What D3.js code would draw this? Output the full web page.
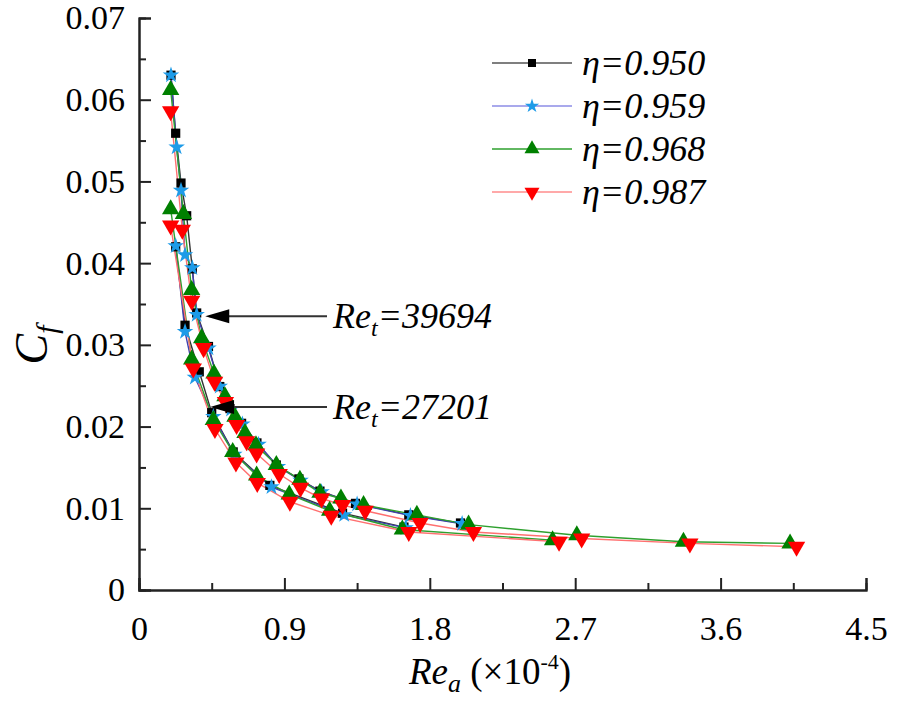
<!DOCTYPE html>
<html><head><meta charset="utf-8">
<script src="https://cdn.jsdelivr.net/npm/d3@7"></script>
<style>
body{margin:0;background:#fff}svg{display:block}
text{font-family:"Liberation Serif","Tinos","Times New Roman","DejaVu Serif",serif !important}
</style>
</head><body>
<svg id="chart" width="898" height="701"></svg>
<script>
// ---- data ----
const xTicks = [0, 0.9, 1.8, 2.7, 3.6, 4.5];
const yTicks = [0, 0.01, 0.02, 0.03, 0.04, 0.05, 0.06, 0.07];
const seriesNames = ["η=0.950", "η=0.959", "η=0.968", "η=0.987"];

// η=0.950
const s950OuterRe = [0.198,0.227,0.26,0.295,0.33,0.357,0.43,0.50,0.563,0.635,0.73,0.85,0.99,1.12,1.34,1.67,1.99];
const s950OuterCf = [0.0630,0.0559,0.0498,0.0458,0.0393,0.0339,0.0298,0.0249,0.0222,0.0204,0.0180,0.0153,0.0136,0.0121,0.0106,0.0092,0.0082];
const s950InnerRe = [0.227,0.285,0.373,0.45,0.583,0.81,1.26,1.64];
const s950InnerCf = [0.0420,0.0324,0.0267,0.0217,0.0169,0.0128,0.0094,0.0077];
// η=0.959
const s959OuterRe = [0.198,0.233,0.26,0.285,0.33,0.357,0.43,0.50,0.57,0.64,0.74,0.86,1.0,1.13,1.35,1.68,2.0];
const s959OuterCf = [0.0630,0.0542,0.0489,0.0410,0.0394,0.0337,0.0296,0.0249,0.0221,0.0203,0.0178,0.0151,0.0134,0.0120,0.0105,0.0091,0.0081];
const s959InnerRe = [0.227,0.285,0.346,0.46,0.59,0.82,1.27,1.65];
const s959InnerCf = [0.0421,0.0316,0.0260,0.0212,0.0166,0.0126,0.0092,0.0076];
// η=0.968
const s968OuterRe = [0.196,0.275,0.326,0.388,0.464,0.532,0.594,0.656,0.724,0.85,0.996,1.12,1.25,1.39,1.72,2.04,2.71,3.37,4.03];
const s968OuterCf = [0.0612,0.0460,0.0367,0.0308,0.0265,0.0237,0.0212,0.0192,0.0177,0.0153,0.0135,0.0119,0.0112,0.0104,0.0092,0.0080,0.0067,0.0059,0.0057];
const s968InnerRe = [0.196,0.326,0.46,0.58,0.728,0.93,1.18,1.63,2.56];
const s968InnerCf = [0.0466,0.0282,0.0208,0.0169,0.0140,0.0117,0.0097,0.0074,0.0061];
// η=0.987
const s987OuterRe = [0.196,0.268,0.326,0.40,0.468,0.535,0.604,0.666,0.728,0.868,1.0,1.13,1.26,1.40,1.74,2.07,2.74,3.41,4.07];
const s987OuterCf = [0.0586,0.0441,0.0354,0.0296,0.0255,0.0230,0.0202,0.0182,0.0167,0.0142,0.0125,0.0112,0.0104,0.0097,0.0082,0.0071,0.0063,0.0057,0.0053];
const s987InnerRe = [0.196,0.336,0.47,0.60,0.732,0.934,1.19,1.67,2.60];
const s987InnerCf = [0.0446,0.0271,0.0197,0.0156,0.0131,0.0108,0.0091,0.0071,0.0059];

const annotations = [
  {label: "39694", re: 0.41, cf: 0.0335},
  {label: "27201", re: 0.44, cf: 0.0224}
];

// ---- build ----
const zip = (a, b) => a.map((v, i) => [v, b[i]]);
const series = [
  {name: seriesNames[0], line: "#333333", legLine: "#555555", fill: "#000000", sym: d3.symbolSquare, size: 85, rot: 0,
   branches: [zip(s950OuterRe, s950OuterCf), zip(s950InnerRe, s950InnerCf)]},
  {name: seriesNames[1], line: "#4040b0", legLine: "#8c8ce6", fill: "#1e9be8", sym: d3.symbolStar, size: 85, rot: 0,
   branches: [zip(s959OuterRe, s959OuterCf), zip(s959InnerRe, s959InnerCf)]},
  {name: seriesNames[2], line: "#2ea02e", legLine: "#2ea02e", fill: "#008000", sym: d3.symbolTriangle, size: 130, rot: 0,
   branches: [zip(s968OuterRe, s968OuterCf), zip(s968InnerRe, s968InnerCf)]},
  {name: seriesNames[3], line: "#ff7070", legLine: "#ff8c8c", fill: "#ff0000", sym: d3.symbolTriangle, size: 130, rot: 180,
   branches: [zip(s987OuterRe, s987OuterCf), zip(s987InnerRe, s987InnerCf)]}
];

const svg = d3.select("#chart");
const m = {l: 139, r: 866, t: 18, b: 590};
const x = d3.scaleLinear().domain([0, 4.5]).range([m.l, m.r]);
const y = d3.scaleLinear().domain([0, 0.07]).range([m.b, m.t]);
const serif = "Liberation Serif";

// lines
const lineGen = d3.line().x(d => x(d[0])).y(d => y(d[1]));
series.forEach(s => {
  s.branches.forEach(b => {
    svg.append("path").attr("d", lineGen(b)).attr("fill", "none")
      .attr("stroke", s.line).attr("stroke-width", 1.4);
  });
});
// markers
series.forEach(s => {
  const sym = d3.symbol().type(s.sym).size(s.size);
  s.branches.forEach(b => {
    svg.append("g").selectAll("path").data(b).join("path")
      .attr("d", sym)
      .attr("transform", d => `translate(${x(d[0])},${y(d[1])}) rotate(${s.rot})`)
      .attr("fill", s.fill);
  });
});

// axes
const axisColor = "#222";
const gx = svg.append("g").attr("transform", `translate(0,${m.b})`);
gx.call(d3.axisBottom(x).tickValues(xTicks).tickSize(-12).tickPadding(26).tickFormat(d3.format("")));
gx.append("g").call(d3.axisBottom(x).tickValues(d3.range(0.45, 4.5, 0.9)).tickSize(-7).tickFormat(""));
const gy = svg.append("g").attr("transform", `translate(${m.l},0)`);
gy.call(d3.axisLeft(y).tickValues(yTicks).tickSize(-12).tickPadding(14).tickFormat(d => d === 0 ? "0" : d3.format(".2f")(d)));
gy.append("g").call(d3.axisLeft(y).tickValues(d3.range(0.005, 0.07, 0.01)).tickSize(-7).tickFormat(""));
svg.selectAll(".domain").attr("stroke", axisColor).attr("stroke-width", 2);
svg.selectAll(".tick line").attr("stroke", axisColor).attr("stroke-width", 2);
svg.selectAll(".tick text").attr("font-family", serif).attr("font-size", 34).attr("fill", "#000");
gx.selectAll(".tick text").attr("dy", "0.71em");

// axis titles
const yt = svg.append("text").attr("transform", "translate(47,345) rotate(-90)")
  .attr("text-anchor", "middle").attr("font-family", serif).attr("font-size", 46).attr("font-style", "italic");
yt.append("tspan").text("C");
yt.append("tspan").attr("font-size", 30).attr("dy", 10).text("f");

const xt = svg.append("text").attr("x", 490).attr("y", 684).attr("text-anchor", "middle")
  .attr("font-family", serif).attr("font-size", 37);
xt.append("tspan").attr("font-style", "italic").text("Re");
xt.append("tspan").attr("font-style", "italic").attr("font-size", 26).attr("dy", 8).text("a");
xt.append("tspan").attr("dy", -8).text(" (×10");
xt.append("tspan").attr("font-size", 22).attr("dy", -15).text("-4");
xt.append("tspan").attr("dy", 15).text(")");

// annotations
annotations.forEach((a, i) => {
  const ay = y(a.cf);
  svg.append("line").attr("x1", 327).attr("y1", ay).attr("x2", x(a.re) + 4).attr("y2", ay)
    .attr("stroke", "#333").attr("stroke-width", 2);
  svg.append("path").attr("d", `M${x(a.re)},${ay}L${x(a.re) + 24},${ay - 7}L${x(a.re) + 24},${ay + 7}Z`).attr("fill", "#000");
  const t = svg.append("text").attr("x", 333).attr("y", ay + 12)
    .attr("font-family", serif).attr("font-size", 36).attr("font-style", "italic");
  t.append("tspan").text("Re");
  t.append("tspan").attr("font-size", 24).attr("dy", 8).text("t");
  t.append("tspan").attr("dy", -8).text("=" + a.label);
});

// legend
const lg = svg.append("g");
series.forEach((s, i) => {
  const ly = 63 + i * 43;
  lg.append("line").attr("x1", 492).attr("x2", 572).attr("y1", ly).attr("y2", ly)
    .attr("stroke", s.legLine).attr("stroke-width", 1.6);
  lg.append("path").attr("d", d3.symbol().type(s.sym).size(s.size * 0.75))
    .attr("transform", `translate(532,${ly}) rotate(${s.rot})`).attr("fill", s.fill);
  lg.append("text").attr("x", 582).attr("y", ly + 12).attr("font-family", serif)
    .attr("font-size", 36).attr("font-style", "italic").text(s.name);
});
</script>
</body></html>
